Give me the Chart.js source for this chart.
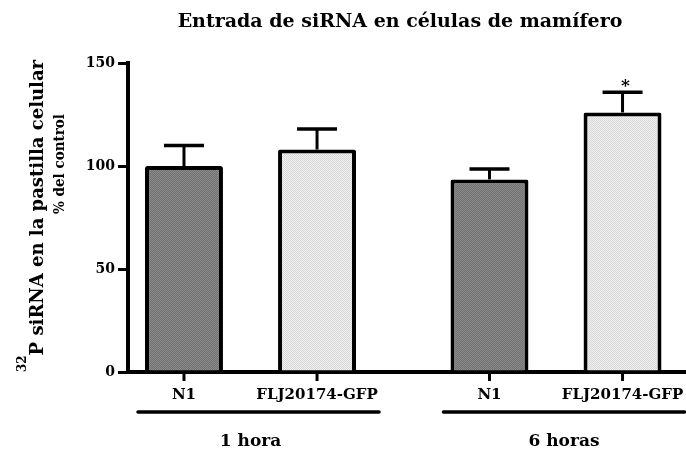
<!DOCTYPE html>
<html>
<head>
<meta charset="utf-8">
<script src="https://cdn.jsdelivr.net/npm/chart.js@4"></script>
<style>
  html, body { margin: 0; padding: 0; background: #fff; }
  #wrap { width: 686px; height: 452px; }
</style>
</head>
<body>
<div id="wrap"><canvas id="myChart" width="686" height="452"></canvas></div>
<script>
// Daten
const grupos = ['1 hora', '6 horas'];
const series = ['N1', 'FLJ20174-GFP'];
const valoresN1 = [100, 93.5];
const valoresFLJ = [108, 126];
const errorN1 = [10, 5];
const errorFLJ = [10, 9.8];
const sigN1 = ['', ''];
const sigFLJ = ['', '*'];
const yTicks = [0, 50, 100, 150];

const titulo = 'Entrada de siRNA en células de mamífero';
const ejeY1 = 'P siRNA en la pastilla celular';
const ejeY1sup = '32';
const ejeY2 = '% del control';

const FONT = "'DejaVu Serif', 'Liberation Serif', serif";
const ctx = document.getElementById('myChart').getContext('2d');

// Punktraster wie im Original
function muster(basis, punkt) {
    const c = document.createElement('canvas');
    c.width = 2; c.height = 2;
    const g = c.getContext('2d');
    g.fillStyle = basis; g.fillRect(0, 0, 2, 2);
    g.fillStyle = punkt; g.fillRect(0, 0, 1, 1); g.fillRect(1, 1, 1, 1);
    return ctx.createPattern(c, 'repeat');
}

// Fehlerbalken, Beschriftungen, Gruppenlinien
const extras = {
    id: 'extras',
    afterDatasetsDraw(chart) {
        const c = chart.ctx;
        const ys = chart.scales.y;
        const xs = chart.scales.x;
        const area = chart.chartArea;
        c.save();
        c.strokeStyle = '#000';
        c.fillStyle = '#000';

        chart.data.datasets.forEach((ds, i) => {
            const meta = chart.getDatasetMeta(i);
            meta.data.forEach((bar, j) => {
                const top = ys.getPixelForValue(ds.data[j].y + ds.fehler[j]);
                // Fehlerbalken
                c.lineWidth = 3;
                c.beginPath();
                c.moveTo(bar.x, bar.y);
                c.lineTo(bar.x, top);
                c.stroke();
                c.lineWidth = 3.5;
                c.beginPath();
                c.moveTo(bar.x - 20, top);
                c.lineTo(bar.x + 20, top);
                c.stroke();
                // Signifikanz
                if (ds.stern[j]) {
                    c.font = 'bold 17px ' + FONT;
                    c.textAlign = 'center';
                    c.textBaseline = 'alphabetic';
                    c.fillText(ds.stern[j], bar.x + 3, top - 1);
                }
                // Tick unter dem Balken
                c.lineWidth = 3;
                c.beginPath();
                c.moveTo(bar.x, area.bottom);
                c.lineTo(bar.x, area.bottom + 9);
                c.stroke();
                // Kategorie-Beschriftung
                c.font = 'bold 15px ' + FONT;
                c.textAlign = 'center';
                c.fillText(ds.label, bar.x, area.bottom + 27);
            });
        });

        // Gruppenlinien und Gruppennamen
        const m0 = chart.getDatasetMeta(0);
        const m1 = chart.getDatasetMeta(1);
        grupos.forEach((g, k) => {
            const b0 = m0.data[k];
            const b1 = m1.data[k];
            c.lineWidth = 3.5;
            c.lineCap = 'round';
            c.beginPath();
            c.moveTo(b0.x - b0.width / 2 - 7, area.bottom + 40);
            c.lineTo(b1.x + b1.width / 2 + 23, area.bottom + 40);
            c.stroke();
            c.font = 'bold 17px ' + FONT;
            c.textAlign = 'center';
            c.fillText(g, xs.getPixelForValue(k) + (k ? 8 : 0), area.bottom + 74);
        });

        // Titel
        c.font = 'bold 19px ' + FONT;
        c.textAlign = 'center';
        c.fillText(titulo, 400, 27);

        // Y-Achsentitel (gedreht)
        c.save();
        c.translate(43, 216);
        c.rotate(-Math.PI / 2);
        c.font = 'bold 18px ' + FONT;
        const w1 = c.measureText(ejeY1).width;
        c.font = 'bold 12px ' + FONT;
        const ws = c.measureText(ejeY1sup).width;
        const start = -(w1 + ws) / 2;
        c.textAlign = 'left';
        c.fillText(ejeY1sup, start, -17);
        c.font = 'bold 18px ' + FONT;
        c.fillText(ejeY1, start + ws, 0);
        c.restore();

        c.save();
        c.translate(64, 164);
        c.rotate(-Math.PI / 2);
        c.scale(0.9, 1);
        c.font = 'bold 15px ' + FONT;
        c.textAlign = 'center';
        c.fillText(ejeY2, 0, 0);
        c.restore();

        c.restore();
    }
};

const myChart = new Chart(ctx, {
    type: 'bar',
    data: {
        datasets: [{
            label: series[0],
            data: valoresN1.map((v, i) => ({ x: i, y: v })),
            fehler: errorN1,
            stern: sigN1,
            backgroundColor: muster('#727272', '#8a8a8a'),
            borderColor: '#000',
            borderWidth: 4,
            borderRadius: 2,
            borderSkipped: 'start'
        }, {
            label: series[1],
            data: valoresFLJ.map((v, i) => ({ x: i, y: v })),
            fehler: errorFLJ,
            stern: sigFLJ,
            backgroundColor: muster('#f0f0f0', '#d8d8d8'),
            borderColor: '#000',
            borderWidth: 4,
            borderRadius: 2,
            borderSkipped: 'start'
        }]
    },
    options: {
        responsive: false,
        animation: false,
        devicePixelRatio: 1,
        categoryPercentage: 0.871,
        barPercentage: 0.586,
        layout: { padding: { top: 63, left: 0, right: 0, bottom: 0 } },
        plugins: {
            legend: { display: false },
            tooltip: { enabled: false },
            title: { display: false }
        },
        scales: {
            x: {
                type: 'linear',
                offset: false,
                min: -0.401,
                max: 1.4255,
                afterBuildTicks: s => { s.ticks = grupos.map((g, i) => ({ value: i })); },
                afterFit: s => { s.height = 80; },
                ticks: { display: false },
                grid: { display: false },
                border: { display: true, color: '#000', width: 4 }
            },
            y: {
                min: 0,
                max: 150,
                afterBuildTicks: s => { s.ticks = yTicks.map(v => ({ value: v })); },
                afterFit: s => { s.width = 128; },
                ticks: {
                    color: '#000',
                    padding: 3,
                    font: { family: FONT, size: 14, weight: 'bold' }
                },
                grid: {
                    drawOnChartArea: false,
                    drawTicks: true,
                    tickLength: 10,
                    color: '#000',
                    lineWidth: 3
                },
                border: { display: true, color: '#000', width: 4 }
            }
        }
    },
    plugins: [extras]
});
</script>
</body>
</html>
